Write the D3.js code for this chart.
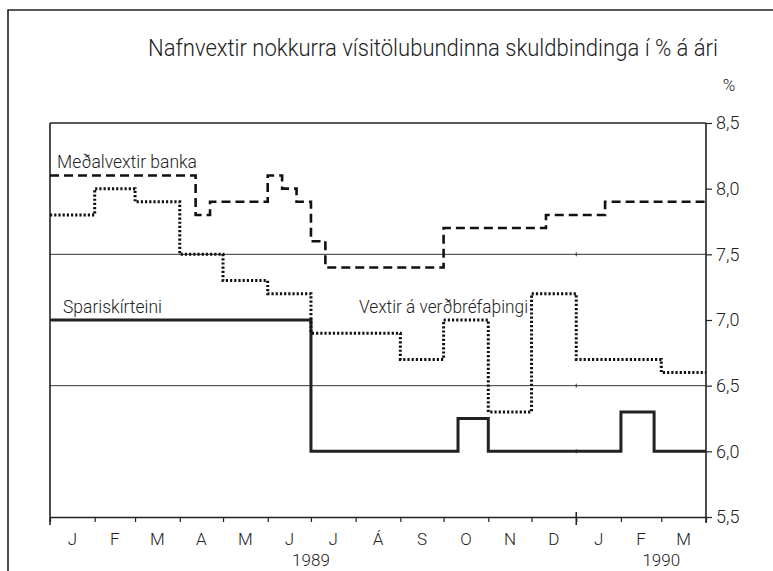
<!doctype html>
<html>
<head>
    <meta charset="UTF-8">
    <title>Nafnvextir</title>
    <script src="https://d3js.org/d3.v7.min.js"></script>
    <style>
        body{ margin:0; background:#fff; }
        svg text{ font-family: Roboto, "Liberation Sans", sans-serif; font-weight:300; fill:#222; }
    </style>
</head>
<body>
    <svg id="chart"></svg>
    <script>
        // gögn (data)
        var monthLabels = ["J","F","M","A","M","J","J","Á","S","O","N","D","J","F","M"];
        var yearLabels = ["1989", "1990"];
        var yearLabelDates = ["1989-07-01", "1990-03-01"];
        var yTicks = [5.5, 6.0, 6.5, 7.0, 7.5, 8.0, 8.5];
        var gridValues = [6.5, 7.5];
        var startDate = "1989-01-01", endDate = "1990-04-01";

        var bankDates  = ["1989-01-01","1989-04-12","1989-04-22","1989-06-01","1989-06-11","1989-06-21","1989-07-01","1989-07-11","1989-10-01","1989-12-11","1990-01-21"];
        var bankValues = [8.1, 7.8, 7.9, 8.1, 8.0, 7.9, 7.6, 7.4, 7.7, 7.8, 7.9];

        var vthDates  = ["1989-01-01","1989-02-01","1989-03-01","1989-04-01","1989-05-01","1989-06-01","1989-07-01","1989-09-01","1989-10-01","1989-11-01","1989-12-01","1990-01-01","1990-03-01"];
        var vthValues = [7.8, 8.0, 7.9, 7.5, 7.3, 7.2, 6.9, 6.7, 7.0, 6.3, 7.2, 6.7, 6.6];

        var spDates  = ["1989-01-01","1989-07-01","1989-10-11","1989-11-01","1990-02-01","1990-02-24"];
        var spValues = [7.0, 6.0, 6.25, 6.0, 6.3, 6.0];

        var W = 773, H = 571;
        var pLeft = 50, pRight = 706, pTop = 123, pBottom = 517;
        var parse = d3.timeParse("%Y-%m-%d");

        var svg = d3.select("#chart").attr("width", W).attr("height", H);

        var x = d3.scaleTime().domain([parse(startDate), parse(endDate)]).range([pLeft, pRight]);
        var y = d3.scaleLinear().domain([5.5, 8.5]).range([pBottom, pTop]);

        // rammi
        svg.append("path")
           .attr("d", "M8," + (H + 5) + "V10H" + (W + 5))
           .attr("fill", "none").attr("stroke", "#222").attr("stroke-width", 1.6);

        // titill
        svg.append("text")
           .attr("x", 148).attr("y", 56)
           .attr("textLength", 570).attr("lengthAdjust", "spacingAndGlyphs")
           .style("font-size", "24px")
           .text("Nafnvextir nokkurra vísitölubundinna skuldbindinga í % á ári");

        svg.append("text")
           .attr("x", 729).attr("y", 91).attr("text-anchor", "middle")
           .style("font-size", "17px").text("%");

        // hnitanet
        svg.selectAll(".grid").data(gridValues).enter().append("line")
           .attr("x1", pLeft).attr("x2", pRight)
           .attr("y1", function(d){ return y(d); })
           .attr("y2", function(d){ return y(d); })
           .attr("stroke", "#333").attr("stroke-width", 1);

        svg.append("line")
           .attr("x1", pLeft).attr("x2", pRight).attr("y1", y(8.5)).attr("y2", y(8.5))
           .attr("stroke", "#222").attr("stroke-width", 1.5);

        // x ás
        var xAxis = d3.axisBottom(x)
            .tickValues(d3.timeMonth.range(parse(startDate), d3.timeDay.offset(parse(endDate), 1)))
            .tickSize(5).tickSizeOuter(0).tickFormat("");
        var gx = svg.append("g").attr("transform", "translate(0," + pBottom + ")").call(xAxis);
        gx.select(".domain").attr("stroke", "#222").attr("stroke-width", 1.5);
        gx.selectAll(".tick line").attr("stroke", "#222").attr("stroke-width", 1.2);

        // áramót
        var newYear = x(parse("1990-01-01"));
        svg.append("line")
           .attr("x1", newYear).attr("x2", newYear)
           .attr("y1", pBottom - 5).attr("y2", pBottom + 8)
           .attr("stroke", "#222").attr("stroke-width", 1.5);
        svg.selectAll(".nyt").data([6.0, 6.5, 7.5]).enter().append("line")
           .attr("x1", newYear).attr("x2", newYear)
           .attr("y1", function(d){ return y(d) - 2; })
           .attr("y2", function(d){ return y(d) + 2; })
           .attr("stroke", "#333").attr("stroke-width", 1);

        var months = d3.timeMonth.range(parse(startDate), parse(endDate));
        svg.selectAll(".mlab").data(months).enter().append("text")
           .attr("x", function(d){ return (x(d) + x(d3.timeMonth.offset(d, 1))) / 2; })
           .attr("y", 545).attr("text-anchor", "middle")
           .style("font-size", "17px")
           .text(function(d, i){ return monthLabels[i]; });

        svg.selectAll(".ylab").data(yearLabels).enter().append("text")
           .attr("x", function(d, i){ return x(parse(yearLabelDates[i])); })
           .attr("y", 566).attr("text-anchor", "middle")
           .style("font-size", "17px")
           .text(function(d){ return d; });

        // y ásar
        svg.append("line").attr("x1", pLeft).attr("x2", pLeft).attr("y1", pTop).attr("y2", pBottom + 8)
           .attr("stroke", "#222").attr("stroke-width", 1.6);

        var yAxis = d3.axisRight(y).tickValues(yTicks).tickSize(6).tickSizeOuter(0)
            .tickFormat(function(d){ return d3.format(".1f")(d).replace(".", ","); });
        var gy = svg.append("g").attr("transform", "translate(" + pRight + ",0)").call(yAxis);
        gy.select(".domain").remove();
        gy.selectAll(".tick line").attr("stroke", "#222").attr("stroke-width", 1.2);
        gy.selectAll(".tick text").attr("x", 10).style("font-size", "18px")
          .style("font-family", "Roboto, 'Liberation Sans', sans-serif").style("font-weight", 300).attr("fill", "#222");
        svg.append("line").attr("x1", pRight).attr("x2", pRight).attr("y1", pTop).attr("y2", pBottom + 6)
           .attr("stroke", "#222").attr("stroke-width", 1.6);

        // línur
        function series(dates, values){
            var pts = dates.map(function(d, i){ return [parse(d), values[i]]; });
            pts.push([parse(endDate), values[values.length - 1]]);
            return pts;
        }
        var line = d3.line()
            .x(function(d){ return x(d[0]); })
            .y(function(d){ return y(d[1]); })
            .curve(d3.curveStepAfter);

        svg.append("path").datum(series(spDates, spValues))
           .attr("d", line).attr("fill", "none")
           .attr("stroke", "#222").attr("stroke-width", 3);

        svg.append("path").datum(series(vthDates, vthValues))
           .attr("d", line).attr("fill", "none")
           .attr("stroke", "#111").attr("stroke-width", 3)
           .attr("stroke-dasharray", "2.2,2");

        svg.append("path").datum(series(bankDates, bankValues))
           .attr("d", line).attr("fill", "none")
           .attr("stroke", "#111").attr("stroke-width", 2.6)
           .attr("stroke-dasharray", "9,5");

        // skýringar
        function label(tx, ty, len, s){
            svg.append("text").attr("x", tx).attr("y", ty)
               .attr("textLength", len).attr("lengthAdjust", "spacingAndGlyphs")
               .style("font-size", "18px").text(s);
        }
        label(57, 168, 140, "Meðalvextir banka");
        label(63, 313, 99, "Spariskírteini");
        label(359, 313, 169, "Vextir á verðbréfaþingi");
    </script>
</body>
</html>
